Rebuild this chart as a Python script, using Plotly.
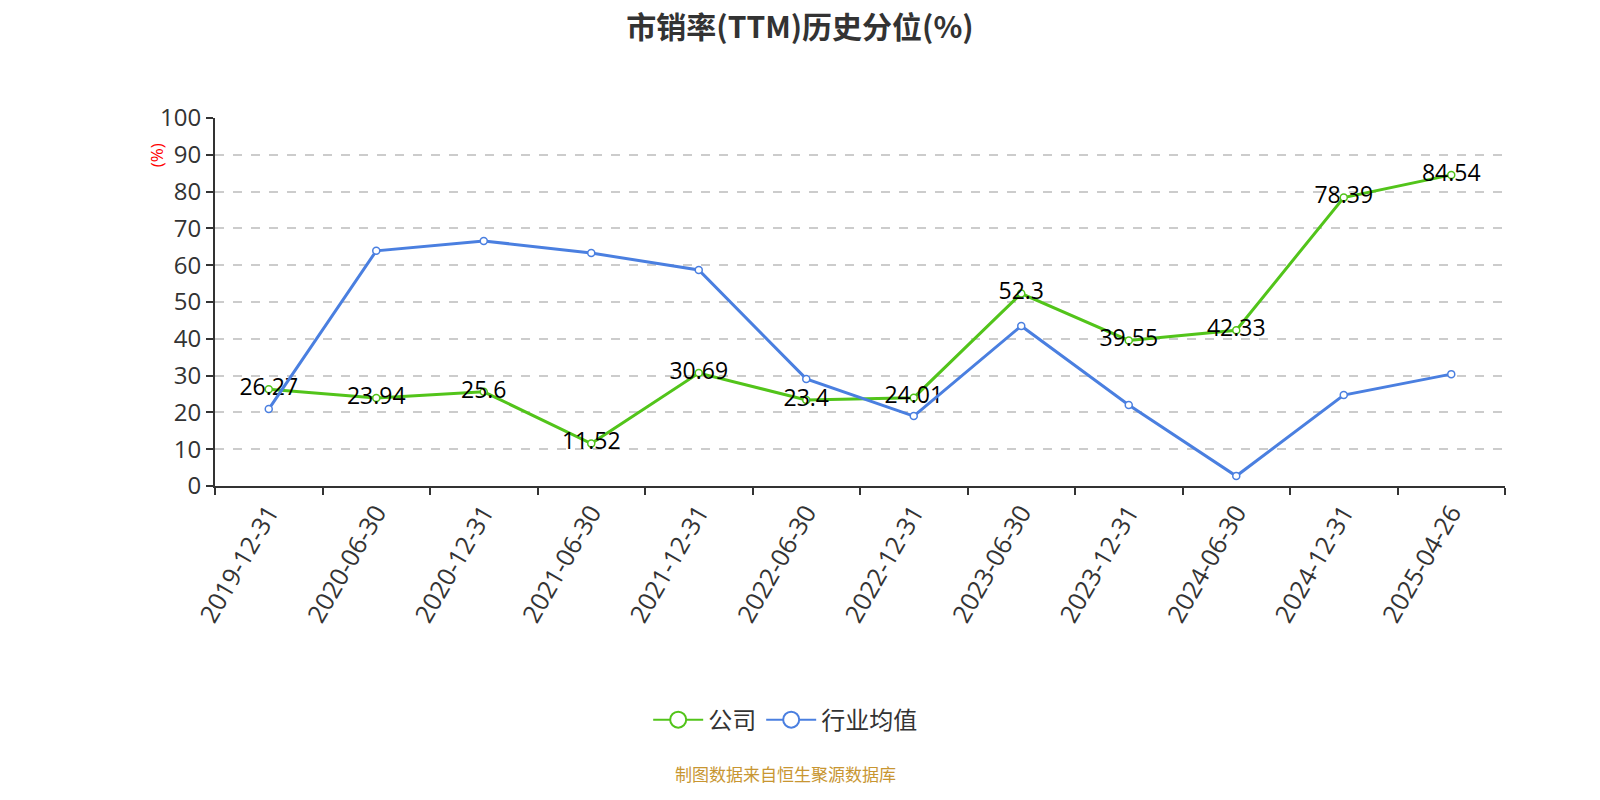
import plotly.graph_objects as go

dates = ["2019-12-31", "2020-06-30", "2020-12-31", "2021-06-30", "2021-12-31", "2022-06-30",
         "2022-12-31", "2023-06-30", "2023-12-31", "2024-06-30", "2024-12-31", "2025-04-26"]
company = [26.27, 23.94, 25.6, 11.52, 30.69, 23.4, 24.01, 52.3, 39.55, 42.33, 78.39, 84.54]
industry = [20.9, 63.9, 66.6, 63.3, 58.7, 29.1, 19.0, 43.5, 22.0, 2.7, 24.7, 30.4]
y_ticks = list(range(0, 101, 10))
series_names = ["公司", "行业均值"]
series_colors = ["#52c41a", "#4a7fe0"]

FONT = "Open Sans, Noto Sans CJK SC, sans-serif"
CJK = "Noto Sans CJK SC, sans-serif"

fig = go.Figure()
fig.add_trace(go.Scatter(
    x=dates, y=company, name=series_names[0], mode="lines+markers+text", showlegend=False,
    line=dict(color=series_colors[0], width=3),
    marker=dict(symbol="circle", size=7, color="white", line=dict(color=series_colors[0], width=1.5)),
    text=[str(v) for v in company], textposition="middle center",
    textfont=dict(size=23, color="#000000", family=FONT),
))
fig.add_trace(go.Scatter(
    x=dates, y=industry, name=series_names[1], mode="lines+markers", showlegend=False,
    line=dict(color=series_colors[1], width=3),
    marker=dict(symbol="circle", size=7, color="white", line=dict(color=series_colors[1], width=1.5)),
))
# legend entries (larger symbols as in reference)
for nm, col in zip(series_names, series_colors):
    fig.add_trace(go.Scatter(
        x=[None], y=[None], name=nm, mode="lines+markers",
        line=dict(color=col, width=2),
        marker=dict(symbol="circle", size=16, color="white", line=dict(color=col, width=2)),
    ))

fig.update_layout(
    width=1600, height=800,
    paper_bgcolor="white", plot_bgcolor="white",
    margin=dict(l=215, r=95, t=118, b=314),
    title=dict(text="<b>市销率(TTM)历史分位(%)</b>", x=0.5, xanchor="center", y=0.966, yanchor="middle",
               font=dict(size=30, color="#333333", family=CJK)),
    font=dict(family=FONT, color="#333333"),
    showlegend=True,
    legend=dict(orientation="h", x=0.442, xanchor="center", y=-0.636, yanchor="middle",
                font=dict(size=24, color="#333333", family=CJK),
                itemsizing="trace", itemwidth=50),
    annotations=[
        dict(text="制图数据来自恒生聚源数据库", xref="paper", yref="paper", x=0.442, y=-0.78,
             xanchor="center", yanchor="middle", showarrow=False,
             font=dict(size=17, color="#c89632", family=CJK)),
        dict(text="(%)", xref="paper", yref="paper", x=-0.0457, y=0.899, textangle=-90,
             xanchor="center", yanchor="middle", showarrow=False,
             font=dict(size=17, color="#ff0000", family=FONT)),
    ],
)

fig.update_xaxes(
    type="category", tickson="boundaries", ticks="outside", ticklen=7, tickcolor="#333333", tickwidth=2,
    showline=True, linecolor="#333333", linewidth=2, showgrid=False,
    tickangle=-60, tickfont=dict(size=25, color="#333333", family=FONT),
    range=[-0.5, len(dates) - 0.5],
)
fig.update_yaxes(
    range=[0, 100], tickvals=y_ticks, ticks="outside", ticklen=7, tickcolor="#333333", tickwidth=2,
    showline=True, linecolor="#333333", linewidth=2,
    showgrid=True, gridcolor="#cccccc", griddash="dash", gridwidth=1.5,
    zeroline=False, tickfont=dict(size=24, color="#333333", family=FONT),
)

fig.write_html("out.html", config={"displayModeBar": False},
               post_script="document.body.style.margin='0';document.body.style.overflow='hidden';")
